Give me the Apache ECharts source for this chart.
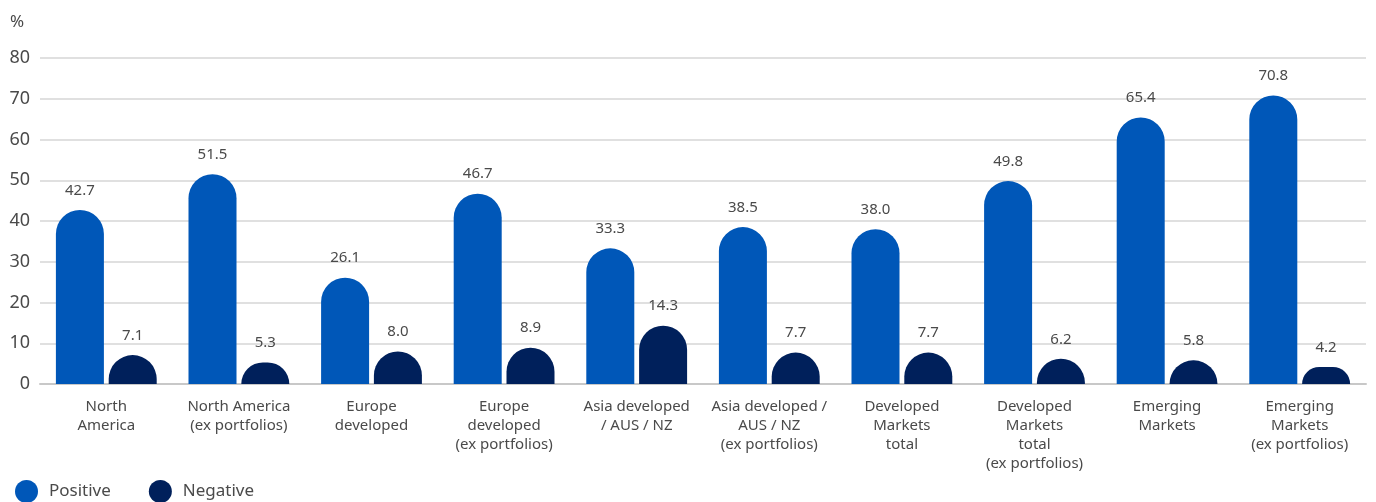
<!DOCTYPE html>
<html>
<head>
<meta charset="utf-8">
<script src="https://cdn.jsdelivr.net/npm/echarts@6/dist/echarts.min.js"></script>
<style>
  html, body { margin: 0; padding: 0; background: #fff; }
  #main { width: 1376px; height: 502px; }
</style>
</head>
<body>
<div id="main"></div>
<script>
const categories = [
  "North\nAmerica",
  "North America\n(ex portfolios)",
  "Europe\ndeveloped",
  "Europe\ndeveloped\n(ex portfolios)",
  "Asia developed\n/ AUS / NZ",
  "Asia developed /\nAUS / NZ\n(ex portfolios)",
  "Developed\nMarkets\ntotal",
  "Developed\nMarkets\ntotal\n(ex portfolios)",
  "Emerging\nMarkets",
  "Emerging\nMarkets\n(ex portfolios)"
];
const positiveValues = [42.7, 51.5, 26.1, 46.7, 33.3, 38.5, 38.0, 49.8, 65.4, 70.8];
const negativeValues = [7.1, 5.3, 8.0, 8.9, 14.3, 7.7, 7.7, 6.2, 5.8, 4.2];

const fontName = "Noto Sans";
const textColor = "#4a4a4a";

let myChart = echarts.init(document.getElementById("main"));
myChart.setOption({
  animation: false,
  textStyle: { fontFamily: fontName },
  title: {
    text: "%",
    left: 5,
    top: 9,
    textStyle: { fontSize: 17, fontWeight: "normal", color: textColor, fontFamily: fontName }
  },
  legend: {
    left: 10,
    top: 475,
    itemWidth: 23,
    itemHeight: 23,
    itemGap: 38,
    icon: "circle",
    textStyle: { fontSize: 17, lineHeight: 20, color: textColor, padding: [0, 0, 0, 6] },
    data: ["Positive", "Negative"]
  },
  grid: {
    left: 40,
    right: 10,
    top: 58,
    bottom: 118
  },
  xAxis: {
    type: "category",
    data: categories,
    axisLine: { lineStyle: { color: "#c8c8c8", width: 2 } },
    axisTick: { show: false },
    axisLabel: {
      interval: 0,
      fontSize: 15,
      color: textColor,
      lineHeight: 19,
      margin: 13
    }
  },
  yAxis: {
    type: "value",
    min: 0,
    max: 80,
    interval: 10,
    axisLine: { show: false },
    axisTick: { show: false },
    splitLine: { lineStyle: { color: "#d6d6d6", width: 1.5 } },
    axisLabel: { fontSize: 18, color: textColor, margin: 10 }
  },
  series: [
    {
      name: "Positive",
      type: "bar",
      data: positiveValues,
      barWidth: 48,
      barGap: "10%",
      itemStyle: { color: "#0057b8", borderRadius: [24, 24, 0, 0] },
      label: {
        show: true,
        position: "top",
        distance: 12,
        fontSize: 15,
        color: textColor,
        formatter: (p) => p.value.toFixed(1)
      }
    },
    {
      name: "Negative",
      type: "bar",
      data: negativeValues,
      barWidth: 48,
      itemStyle: { color: "#00205b", borderRadius: [24, 24, 0, 0] },
      label: {
        show: true,
        position: "top",
        distance: 12,
        fontSize: 15,
        color: textColor,
        formatter: (p) => p.value.toFixed(1)
      }
    }
  ]
});
</script>
</body>
</html>
